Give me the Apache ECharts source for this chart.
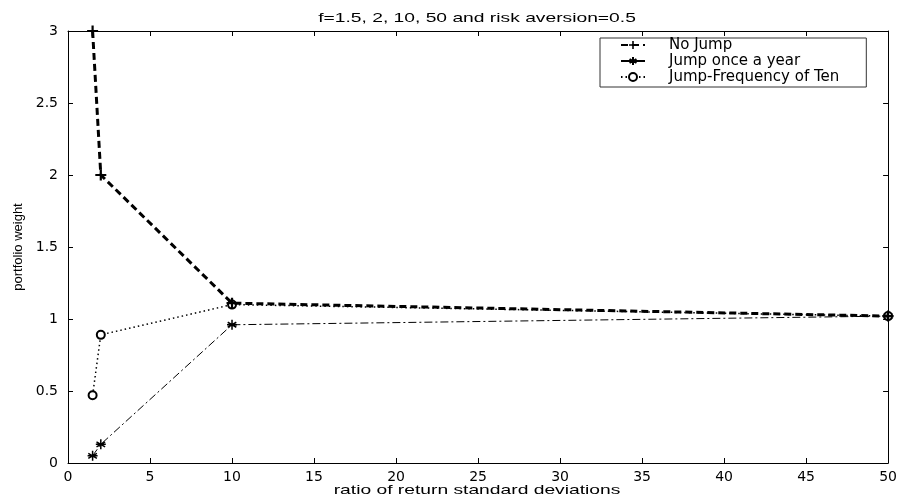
<!DOCTYPE html>
<html>
<head>
<meta charset="utf-8">
<script src="https://cdn.jsdelivr.net/npm/echarts@6/dist/echarts.min.js"></script>
<style>
  html, body { margin: 0; padding: 0; background: #fff; }
  #chart { width: 900px; height: 500px; }
</style>
</head>
<body>
<div id="chart"></div>
<script>
// ratio of return standard deviations (f)
var ratios = [1.5, 2, 10, 50];
// portfolio weights
var noJump = [3.0, 2.0, 1.11, 1.02];
var jumpOnce = [0.05, 0.13, 0.96, 1.02];
var jumpTen = [0.47, 0.89, 1.10, 1.02];
var seriesNames = ['No Jump', 'Jump once a year', 'Jump-Frequency of Ten'];
var titleText = 'f=1.5, 2, 10, 50 and risk aversion=0.5';
var xName = 'ratio of return standard deviations';
var yName = 'portfolio weight';

function pairs(ys) {
    var out = [];
    for (var i = 0; i < ratios.length; i++) {
        out.push([ratios[i], ys[i]]);
    }
    return out;
}

var font = 'Liberation Sans, Arial, sans-serif';
var wideFont = 'DejaVu Sans, sans-serif';
var stretch = 1.48;   // the original picture is stretched sideways
var plusPath = 'path://M4,0H6V10H4Z M0,4H10V6H0Z';
var starPath = 'path://M5,0L5,10M0.7,2.5L9.3,7.5M9.3,2.5L0.7,7.5M0,5L10,5';

var myChart = echarts.init(document.getElementById('chart'));

function axis(extra) {
    return Object.assign({
        type: 'value',
        axisLine: { show: true, onZero: false, lineStyle: { color: '#000', width: 1 } },
        axisTick: { show: true, inside: true, length: 5, lineStyle: { color: '#000' } },
        splitLine: { show: false },
        axisLabel: { show: false }
    }, extra);
}

myChart.setOption({
    animation: false,
    grid: { left: 68, right: 11, top: 31, bottom: 37 },
    graphic: [
        {
            type: 'text', x: 477, y: 18, scaleX: stretch,
            style: { text: titleText, fill: '#000', fontSize: 13, fontFamily: font,
                     align: 'center', verticalAlign: 'middle' }
        },
        {
            type: 'text', x: 477, y: 490, scaleX: stretch,
            style: { text: xName, fill: '#000', fontSize: 13, fontFamily: font,
                     align: 'center', verticalAlign: 'middle' }
        }
    ],
    legend: {
        data: seriesNames,
        orient: 'vertical',
        left: 600,
        top: 38,
        itemWidth: 24,
        itemHeight: 10,
        itemGap: 0,
        padding: [-1, 27, 2, 20],
        borderColor: '#333',
        borderWidth: 1,
        backgroundColor: '#fff',
        textStyle: { color: '#000', fontSize: 15, lineHeight: 16, height: 16, fontFamily: wideFont,
                     padding: [0, 0, 0, 19] }
    },
    xAxis: [
        axis({
            min: 0, max: 50, interval: 5, position: 'bottom',
            axisLabel: { show: true, color: '#000', fontSize: 14, fontFamily: wideFont, margin: 7 }
        }),
        axis({ min: 0, max: 50, interval: 5, position: 'top' })
    ],
    yAxis: [
        axis({
            min: 0, max: 3, interval: 0.5, position: 'left',
            name: yName,
            nameLocation: 'middle', nameGap: 40,
            nameTextStyle: { color: '#000', fontSize: 13, fontFamily: font },
            axisLabel: { show: true, color: '#000', fontSize: 14, fontFamily: wideFont, margin: 10 }
        }),
        axis({ min: 0, max: 3, interval: 0.5, position: 'right' })
    ],
    series: [
        {
            name: seriesNames[1],
            type: 'line',
            data: pairs(jumpOnce),
            symbol: starPath,
            symbolSize: 10,
            lineStyle: { color: '#000', width: 1, type: [8, 3, 2, 3] },
            itemStyle: { color: '#000', borderColor: '#000', borderWidth: 1.5 },
            z: 3
        },
        {
            name: seriesNames[2],
            type: 'line',
            data: pairs(jumpTen),
            symbol: 'emptyCircle',
            symbolSize: 8,
            lineStyle: { color: '#000', width: 1.5, type: [1.5, 3] },
            itemStyle: { color: '#000', borderWidth: 2 },
            z: 4
        },
        {
            name: seriesNames[0],
            type: 'line',
            data: pairs(noJump),
            symbol: plusPath,
            symbolSize: 11,
            lineStyle: { color: '#000', width: 3, type: [7, 4] },
            itemStyle: { color: '#000' },
            z: 5
        }
    ]
});
</script>
</body>
</html>
